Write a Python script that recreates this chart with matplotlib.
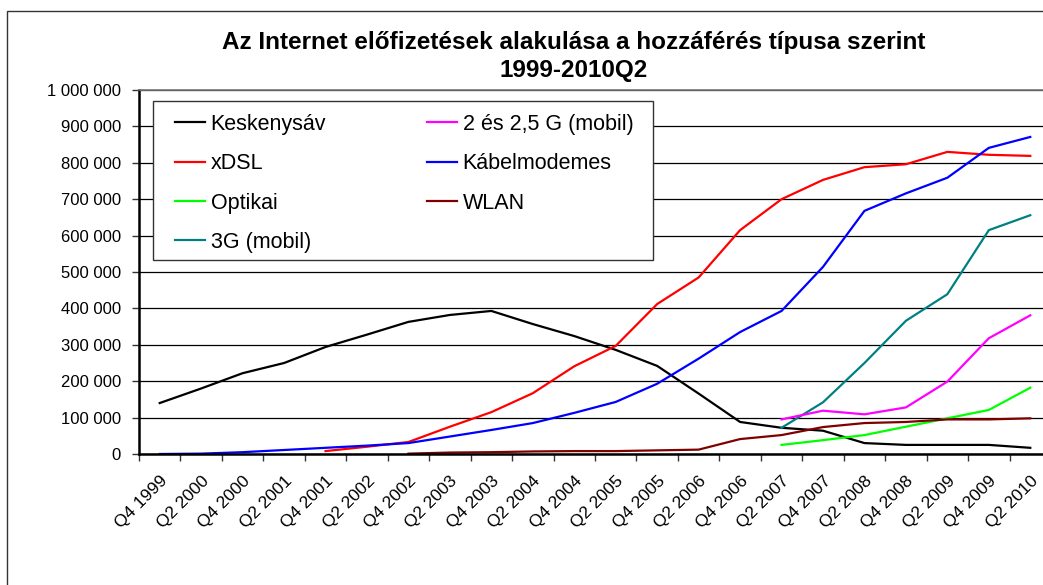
import numpy as np
import matplotlib
matplotlib.use("Agg")
import matplotlib.pyplot as plt
from matplotlib.patches import Rectangle
from matplotlib.ticker import FuncFormatter, FixedLocator

plt.rcParams['font.family'] = ['Liberation Sans', 'DejaVu Sans']

nan = np.nan

# half-yearly periods
periods = ['Q4 1999', 'Q2 2000', 'Q4 2000', 'Q2 2001', 'Q4 2001', 'Q2 2002',
           'Q4 2002', 'Q2 2003', 'Q4 2003', 'Q2 2004', 'Q4 2004', 'Q2 2005',
           'Q4 2005', 'Q2 2006', 'Q4 2006', 'Q2 2007', 'Q4 2007', 'Q2 2008',
           'Q4 2008', 'Q2 2009', 'Q4 2009', 'Q2 2010']

keskenysav = [140000, 180000, 222000, 250000, 294000, 328000, 363000, 382000,
              393000, 357000, 324000, 286000, 242000, 166000, 88000, 72000,
              64000, 30000, 25000, 25000, 25000, 17000]
xdsl = [nan, nan, nan, nan, 8000, 20000, 33000, 75000, 115000, 167000, 241000,
        297000, 412000, 485000, 615000, 700000, 753000, 788000, 796000, 830000,
        822000, 819000]
optikai = [nan] * 15 + [25000, 38000, 52000, 75000, 98000, 121000, 182000]
g3_mobil = [nan] * 15 + [72000, 142000, 250000, 366000, 439000, 615000, 656000]
g2_mobil = [nan] * 15 + [95000, 119000, 109000, 128000, 199000, 318000, 381000]
kabel = [0, 1000, 5000, 11000, 17000, 23000, 30000, 48000, 66000, 85000, 113000,
         143000, 193000, 262000, 335000, 393000, 514000, 668000, 716000, 759000,
         841000, 871000]
wlan = [nan] * 6 + [1000, 4000, 5000, 7000, 8000, 8000, 10000, 12000, 41000,
                    52000, 74000, 85000, 88000, 95000, 95000, 98000]

series = [
    ('Keskenysáv', keskenysav, '#000000'),
    ('xDSL', xdsl, '#FF0000'),
    ('Optikai', optikai, '#00FF00'),
    ('3G (mobil)', g3_mobil, '#008080'),
    ('2 és 2,5 G (mobil)', g2_mobil, '#FF00FF'),
    ('Kábelmodemes', kabel, '#0000FF'),
    ('WLAN', wlan, '#800000'),
]

W, H = 1043, 585
fig = plt.figure(figsize=(W / 100, H / 100), dpi=100)

# outer chart border (runs off the right and bottom edge like the source)
fig.patches.append(Rectangle((7 / W, -0.1), 1.2, (H - 11) / H + 0.1,
                             transform=fig.transFigure, fill=False,
                             edgecolor='#333333', linewidth=1.0))

# plot area in pixels: left 139, right 1051, top 90, bottom 454
PL, PR, PT, PB = 139, 1051, 90, 454
pw, ph = PR - PL, PB - PT
ax = fig.add_axes([PL / W, (H - PB) / H, pw / W, ph / H])

x = np.arange(len(periods))
for label, vals, color in series:
    ax.plot(x, vals, color=color, linewidth=1.6, label=label, zorder=2)

ax.set_xlim(-0.5, len(periods) - 0.5)
ax.set_ylim(0, 1000000)
ax.set_yticks(np.arange(0, 1000001, 100000))
ax.yaxis.set_major_formatter(FuncFormatter(lambda v, p: f'{int(v):,}'.replace(',', ' ')))
ax.yaxis.grid(True, color='#000000', linewidth=0.9)
ax.set_axisbelow(True)

# category ticks between points, labels at the points
ax.xaxis.set_major_locator(FixedLocator(np.arange(-0.5, len(periods), 1.0)))
ax.xaxis.set_major_formatter(FuncFormatter(lambda v, p: ''))
ax.set_xticks(x, minor=True)
ax.set_xticklabels(periods, minor=True, rotation=45, ha='right',
                   rotation_mode='anchor', fontsize=12.5)
ax.tick_params(axis='x', which='minor', length=0, pad=14)
ax.tick_params(axis='x', which='major', length=5, width=1, color='#333333')
ax.tick_params(axis='y', length=5, width=1, color='#333333', labelsize=12, pad=8)

for side in ['left', 'bottom']:
    ax.spines[side].set_linewidth(1.8)
    ax.spines[side].set_color('#000000')
ax.spines['top'].set_color('#777777')
ax.spines['top'].set_linewidth(1.2)
ax.spines['right'].set_visible(False)

# legend frame drawn separately so the padding can match the source
lx0, lx1, ly0, ly1 = 153, 653, 101, 260
ax.add_patch(Rectangle(((lx0 - PL) / pw, (PB - ly1) / ph), (lx1 - lx0) / pw,
                       (ly1 - ly0) / ph, transform=ax.transAxes,
                       facecolor='white', edgecolor='#333333', linewidth=1.0,
                       zorder=4))
leg = ax.legend(loc='upper left', bbox_to_anchor=((175 - PL) / pw, (PB - 114) / ph),
                borderaxespad=0, borderpad=0, ncol=2, fontsize=15.5,
                frameon=False, handlelength=1.4, handletextpad=0.25,
                labelspacing=0.85, columnspacing=4.7)
leg.set_zorder(5)

fig.text(574 / W, 1 - 31 / H,
         'Az Internet előfizetések alakulása a hozzáférés típusa szerint\n1999-2010Q2',
         ha='center', va='top', fontsize=17.5, fontweight='bold', linespacing=1.3)

fig.savefig('out.png', dpi=100)
